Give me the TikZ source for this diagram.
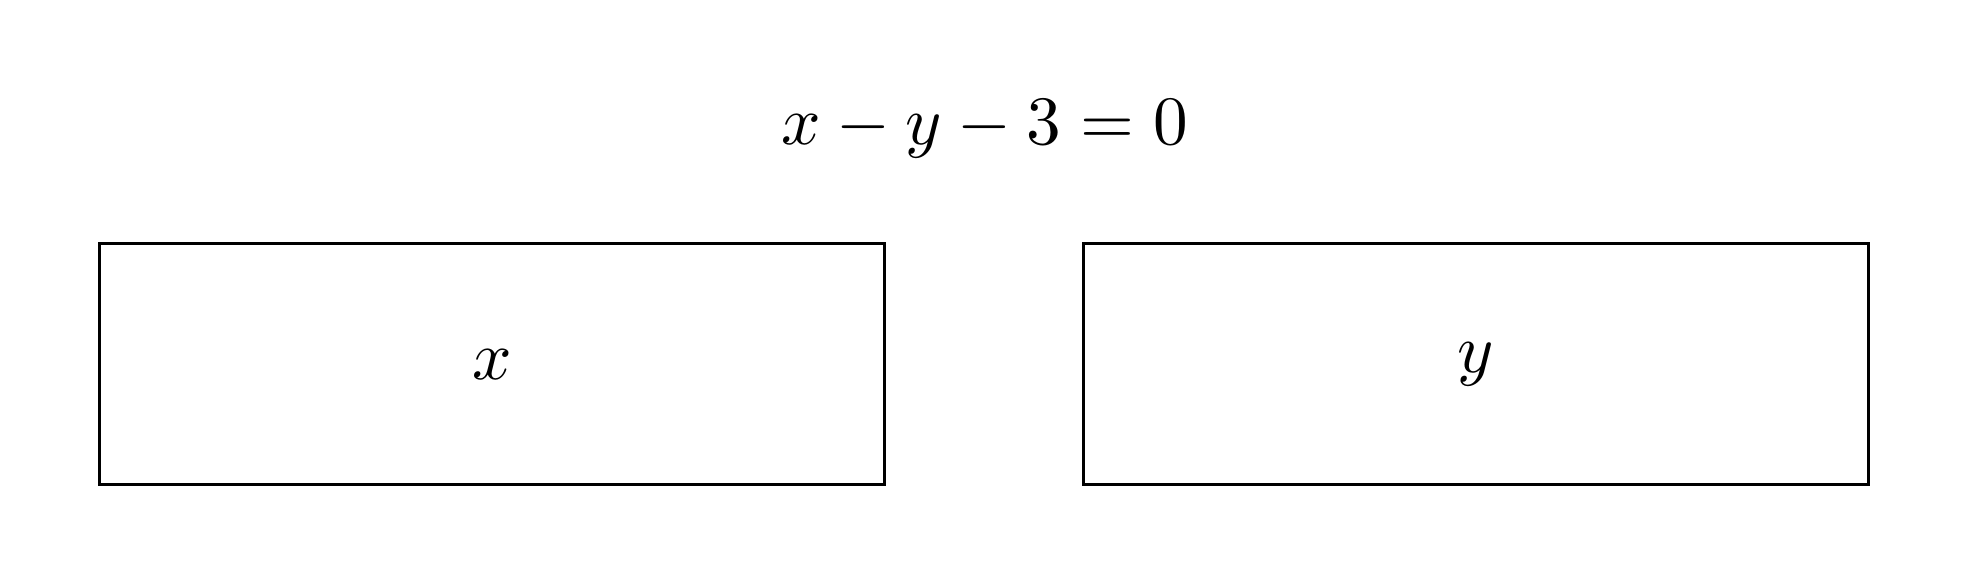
\documentclass[tikz,border=0pt]{standalone}
\usepackage{amsmath}
\usepackage{tikz}
\usetikzlibrary{positioning}

\begin{document}
\begin{tikzpicture}[
        node distance = 1.96cm,
        varbox/.style={black,rectangle,draw,line width=0.85pt,minimum width=7.85cm,minimum height=2.41cm,inner sep=0pt},
        label/.style={black,scale=1.97,inner sep=0pt}
        ]
        \useasboundingbox (0,0) rectangle (19.69,5.85);
        \node[varbox] (xbox) at (4.92,2.208) {};
        \node[varbox, right=of xbox] (ybox) {};
        \node[label] (xlab) at (xbox.center) {$x$};
        \node[label] (ylab) at (ybox.center) {$y$};
        \node[label] (eqn) at (9.845,4.557) {$x - y - 3 = 0$};
      \end{tikzpicture}
\end{document}
